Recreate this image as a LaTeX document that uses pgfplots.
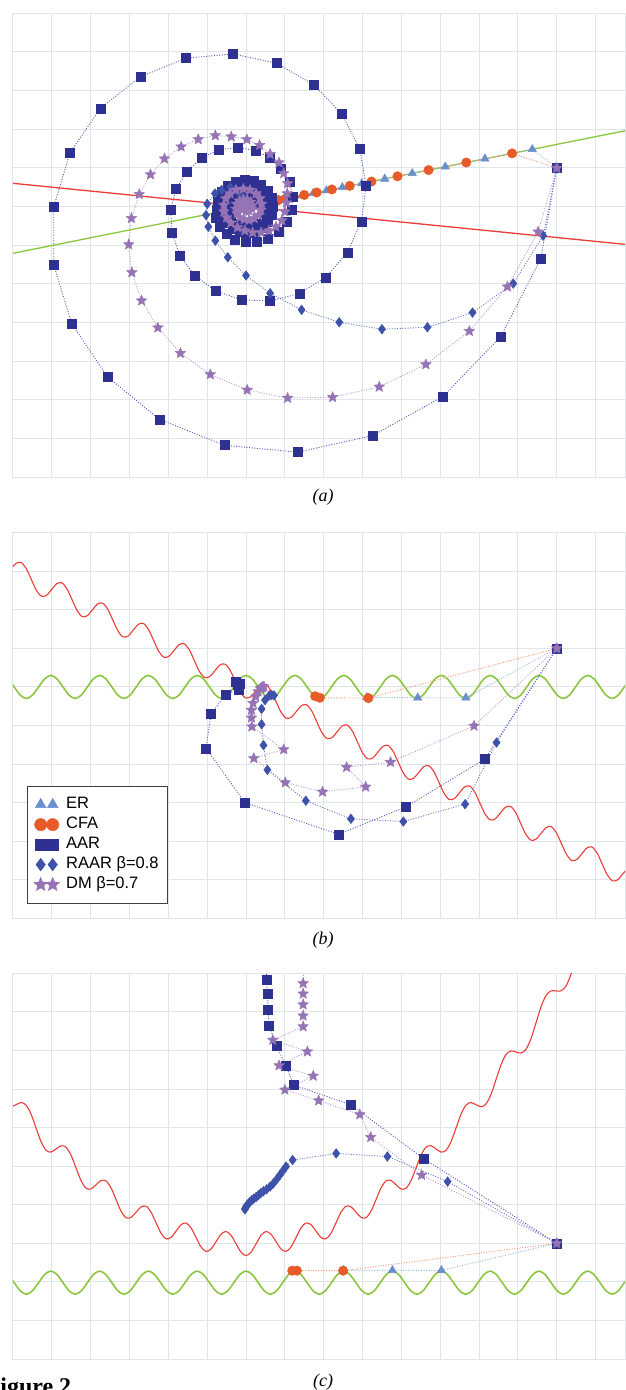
\documentclass[border=0pt]{standalone}
\usepackage{pgfplots}
\pgfplotsset{compat=1.18}
\usetikzlibrary{plotmarks}
\usepackage{fontspec}
\setmainfont{Liberation Serif}
\newfontfamily\legendfont{Liberation Sans}

\definecolor{gridc}{RGB}{224,229,232}
\definecolor{erc}{RGB}{106,143,204}
\definecolor{erl}{RGB}{150,180,226}
\definecolor{cfac}{RGB}{232,90,40}
\definecolor{cfal}{RGB}{244,150,115}
\definecolor{aarc}{RGB}{46,49,146}
\definecolor{aarl}{RGB}{85,90,190}
\definecolor{raarc}{RGB}{62,82,170}
\definecolor{raarl}{RGB}{100,120,205}
\definecolor{dmc}{RGB}{150,115,180}
\definecolor{dml}{RGB}{185,155,212}
\definecolor{redc}{RGB}{235,60,55}
\definecolor{greenc}{RGB}{140,198,63}

% filled five-pointed star
\pgfdeclareplotmark{fstar}{%
  \pgfpathmoveto{\pgfpointpolar{90}{\pgfplotmarksize}}%
  \pgfpathlineto{\pgfpointpolar{126}{0.45\pgfplotmarksize}}%
  \pgfpathlineto{\pgfpointpolar{162}{\pgfplotmarksize}}%
  \pgfpathlineto{\pgfpointpolar{198}{0.45\pgfplotmarksize}}%
  \pgfpathlineto{\pgfpointpolar{234}{\pgfplotmarksize}}%
  \pgfpathlineto{\pgfpointpolar{270}{0.45\pgfplotmarksize}}%
  \pgfpathlineto{\pgfpointpolar{306}{\pgfplotmarksize}}%
  \pgfpathlineto{\pgfpointpolar{342}{0.45\pgfplotmarksize}}%
  \pgfpathlineto{\pgfpointpolar{18}{\pgfplotmarksize}}%
  \pgfpathlineto{\pgfpointpolar{54}{0.45\pgfplotmarksize}}%
  \pgfpathclose
  \pgfusepathqfillstroke
}

\tikzset{
  er/.style={erl, line width=0.9pt, dash pattern=on 1pt off 1.6pt, mark=triangle*, mark size=4.8pt, mark options={solid, fill=erc, draw=erc, line width=0.5pt}},
  cfa/.style={cfal, line width=0.9pt, dash pattern=on 1pt off 1.6pt, mark=*, mark size=4.7pt, mark options={solid, fill=cfac, draw=cfac, line width=0.5pt}},
  aar/.style={aarl, line width=0.9pt, dash pattern=on 1pt off 1.6pt, mark=square*, mark size=4.5pt, mark options={solid, fill=aarc, draw=aarc, line width=0.5pt}},
  raar/.style={raarl, line width=0.9pt, dash pattern=on 1pt off 1.6pt, mark=diamond*, mark size=4.8pt, mark options={solid, fill=raarc, draw=raarc, line width=0.5pt}},
  dm/.style={dml, line width=0.9pt, dash pattern=on 1pt off 1.6pt, mark=fstar, mark size=5.6pt, mark options={solid, fill=dmc, draw=dmc, line width=0.4pt}},
}

\pgfplotsset{
  panel/.style={
    scale only axis, width=612pt,
    xmin=0, xmax=15.757, ymin=0,
    xtick={0,...,15},
    xticklabels={}, yticklabels={},
    major tick length=0pt, tick style={draw=none},
    grid=major,
    grid style={draw=gridc, line width=1pt},
    axis line style={draw=gridc, line width=1pt},
  },
}

\begin{document}
\begin{tikzpicture}

% ---------------- (a) ----------------
\begin{axis}[panel, at={(13pt,-477.3pt)}, anchor=south west, height=464pt, ymax=12, ytick={0,...,12}]
\addplot[greenc, line width=1.3pt] coordinates {(0,5.793) (15.757,8.963)};
\addplot[redc, line width=1.3pt] coordinates {(0,7.603) (15.757,6.025)};
% ER
\addplot[er] coordinates {
(14,8) (13.37,8.483) (12.15,8.238) (11.13,8.032) (10.28,7.861) (9.57,7.718) (8.98,7.600)
(8.48,7.499) (8.07,7.417) (7.73,7.348) (7.44,7.290) (7.20,7.242) (7.00,7.201) (6.84,7.169)
(6.70,7.141) (6.58,7.117) (6.49,7.099) (6.40,7.081) (6.34,7.069) (6.28,7.057) (6.23,7.047) (6.19,7.038)
};
% CFA
\addplot[cfa] coordinates {
(14,8) (12.85,8.378) (11.67,8.141) (10.70,7.946) (9.90,7.785) (9.23,7.650) (8.67,7.537)
(8.21,7.445) (7.82,7.366) (7.50,7.302) (7.23,7.248) (7.01,7.203) (6.83,7.167) (6.68,7.137)
(6.56,7.113) (6.47,7.095) (6.40,7.081) (6.35,7.071) (6.31,7.063) (6.29,7.059)
};
% AAR
\addplot[aar] coordinates {
(14,8) (13.59,5.66) (12.56,3.64) (11.07,2.09) (9.26,1.08) (7.33,0.65) (5.44,0.83) (3.77,1.50)
(2.43,2.60) (1.51,3.98) (1.05,5.49) (1.05,7.00) (1.47,8.40) (2.25,9.54) (3.28,10.36) (4.45,10.84)
(5.67,10.95) (6.78,10.71) (7.75,10.15) (8.47,9.39) (8.93,8.49) (9.09,7.53) (8.97,6.62) (8.61,5.81)
(8.05,5.17) (7.37,4.75) (6.62,4.56) (5.88,4.59) (5.22,4.82) (4.67,5.22) (4.30,5.74) (4.09,6.33)
(4.06,6.93) (4.20,7.46) (4.48,7.91) (4.87,8.27) (5.31,8.47) (5.79,8.53) (6.24,8.45) (6.62,8.26)
(6.90,7.97) (7.12,7.64) (7.20,7.26) (7.17,6.91) (7.05,6.61) (6.83,6.35) (6.57,6.18) (6.27,6.08)
(6.00,6.08) (5.72,6.15) (5.50,6.31) (5.33,6.48) (5.23,6.70)
(5.241,6.930) (5.273,7.165) (5.374,7.376) (5.535,7.544) (5.738,7.653) (5.962,7.694) (6.186,7.664)
(6.387,7.566) (6.547,7.413) (6.651,7.220) (6.689,7.006) (6.660,6.793) (6.567,6.602) (6.421,6.450)
(6.237,6.352) (6.034,6.316) (5.832,6.344) (5.651,6.432) (5.507,6.571) (5.415,6.745) (5.381,6.938)
(5.408,7.129) (5.492,7.300) (5.623,7.435) (5.788,7.523) (5.969,7.554) (6.150,7.528) (6.311,7.449)
(6.438,7.325) (6.520,7.170) (6.549,6.999) (6.524,6.829) (6.450,6.678) (6.333,6.559) (6.187,6.483)
(6.027,6.456) (5.869,6.479) (5.727,6.550) (5.616,6.659) (5.545,6.795) (5.531,6.945) (5.565,7.086)
(5.639,7.204) (5.742,7.289) (5.860,7.334) (5.981,7.339) (6.091,7.308) (6.180,7.247) (6.241,7.165) (6.271,7.074)
};
% RAAR
\addplot[raar] coordinates {
(14,8) (13.65,6.25) (12.88,5.01) (11.83,4.26) (10.67,3.88) (9.50,3.83) (8.40,4.01) (7.43,4.33)
(6.62,4.76) (6.00,5.22) (5.53,5.69) (5.21,6.12) (5.03,6.48) (4.97,6.78) (5.00,7.07) (5.20,7.34)
(5.37,7.43) (5.59,7.50) (5.78,7.40) (5.90,7.25) (5.97,7.13) (6.00,7.06) (6.01,7.02) (6.00,7.00)
};
% DM
\addplot[dm] coordinates {
(14,8) (13.52,6.35) (12.73,4.93) (11.75,3.78) (10.63,2.92) (9.43,2.34) (8.23,2.07) (7.07,2.05)
(6.03,2.26) (5.08,2.66) (4.31,3.21) (3.73,3.87) (3.31,4.57) (3.06,5.30) (2.98,6.02) (3.05,6.70)
(3.25,7.32) (3.54,7.83) (3.90,8.24) (4.33,8.55) (4.77,8.74) (5.21,8.84) (5.62,8.81) (6.02,8.74)
(6.35,8.59) (6.62,8.36) (6.85,8.14) (6.97,7.86) (7.07,7.60) (7.06,7.34) (7.04,7.10) (7.00,6.87)
(6.92,6.64) (6.77,6.48) (6.59,6.38) (6.39,6.33) (6.17,6.33) (5.97,6.38) (5.78,6.46) (5.61,6.58)
(5.50,6.72) (5.43,6.87) (5.43,7.04) (5.48,7.21) (5.59,7.34) (5.74,7.43) (5.93,7.46) (6.10,7.43)
(6.26,7.34) (6.36,7.21) (6.40,7.07) (6.38,6.91) (6.32,6.78) (6.21,6.70) (6.08,6.65) (5.95,6.67)
(5.84,6.72) (5.77,6.83) (5.74,6.94) (5.76,7.07) (5.83,7.15) (5.93,7.19) (6.03,7.18) (6.12,7.12)
(6.16,7.03) (6.15,6.95) (6.08,6.89) (6.00,6.88) (5.92,6.92) (5.89,6.99) (5.92,7.05) (5.98,7.08)
(6.04,7.05) (6.06,6.99) (6.01,6.96) (5.97,6.99) (6.00,7.02)
};
\end{axis}

% ---------------- (b) ----------------
\begin{axis}[panel, at={(13pt,-918.3pt)}, anchor=south west, height=385.6pt, ymax=10, ytick={0,...,10},
  legend image code/.code={\path[#1, every mark/.append style={scale=1.3}] plot[only marks] coordinates {(0pt,0pt) (12pt,0pt)};},
  legend style={at={(0.0234,0.344)}, anchor=north west, draw=black!75, line width=0.9pt, fill=white,
    inner xsep=6pt, inner ysep=8.5pt, row sep=0pt, column sep=4pt,
    nodes={inner sep=2.5pt, text height=11.5pt, text depth=3.5pt, font=\fontsize{16.5}{18}\legendfont}},
  legend cell align=left]
\addlegendimage{er}\addlegendentry{ER}
\addlegendimage{cfa}\addlegendentry{CFA}
\addlegendimage{aar}\addlegendentry{AAR}
\addlegendimage{raar}\addlegendentry{RAAR β=0.8}
\addlegendimage{dm}\addlegendentry{DM β=0.7}
\addplot[greenc, line width=1.6pt, smooth] coordinates {
(-0.127,6.212) (0.030,6.0) (0.187,5.788) (0.344,5.7) (0.501,5.788) (0.659,6.0) (0.816,6.212) (0.973,6.3)
(1.130,6.212) (1.287,6.0) (1.444,5.788) (1.601,5.7) (1.758,5.788) (1.915,6.0) (2.073,6.212) (2.230,6.3)
(2.387,6.212) (2.544,6.0) (2.701,5.788) (2.858,5.7) (3.015,5.788) (3.172,6.0) (3.329,6.212) (3.486,6.3)
(3.644,6.212) (3.801,6.0) (3.958,5.788) (4.115,5.7) (4.272,5.788) (4.429,6.0) (4.586,6.212) (4.743,6.3)
(4.900,6.212) (5.057,6.0) (5.215,5.788) (5.372,5.7) (5.529,5.788) (5.686,6.0) (5.843,6.212) (6.000,6.3)
(6.157,6.212) (6.314,6.0) (6.471,5.788) (6.628,5.7) (6.786,5.788) (6.943,6.0) (7.100,6.212) (7.257,6.3)
(7.414,6.212) (7.571,6.0) (7.728,5.788) (7.885,5.7) (8.042,5.788) (8.199,6.0) (8.357,6.212) (8.514,6.3)
(8.671,6.212) (8.828,6.0) (8.985,5.788) (9.142,5.7) (9.299,5.788) (9.456,6.0) (9.613,6.212) (9.770,6.3)
(9.928,6.212) (10.085,6.0) (10.242,5.788) (10.399,5.7) (10.556,5.788) (10.713,6.0) (10.870,6.212) (11.027,6.3)
(11.184,6.212) (11.341,6.0) (11.499,5.788) (11.656,5.7) (11.813,5.788) (11.970,6.0) (12.127,6.212) (12.284,6.3)
(12.441,6.212) (12.598,6.0) (12.755,5.788) (12.912,5.7) (13.070,5.788) (13.227,6.0) (13.384,6.212) (13.541,6.3)
(13.698,6.212) (13.855,6.0) (14.012,5.788) (14.169,5.7) (14.326,5.788) (14.483,6.0) (14.641,6.212) (14.798,6.3)
(14.955,6.212) (15.112,6.0) (15.269,5.788) (15.426,5.7) (15.583,5.788) (15.740,6.0) (15.897,6.212)
};
\addplot[redc, line width=1.1pt, smooth] coordinates {
(-0.055,9.054) (0.076,9.204) (0.208,9.228) (0.339,9.072) (0.470,8.790) (0.601,8.508) (0.733,8.353) (0.864,8.376)
(0.995,8.527) (1.126,8.677) (1.258,8.701) (1.389,8.545) (1.520,8.263) (1.651,7.981) (1.783,7.825) (1.914,7.849)
(2.045,7.999) (2.176,8.150) (2.308,8.174) (2.439,8.018) (2.570,7.736) (2.701,7.454) (2.833,7.298) (2.964,7.322)
(3.095,7.472) (3.226,7.623) (3.358,7.647) (3.489,7.491) (3.620,7.209) (3.751,6.927) (3.883,6.771) (4.014,6.795)
(4.145,6.945) (4.276,7.096) (4.408,7.119) (4.539,6.964) (4.670,6.682) (4.801,6.400) (4.933,6.244) (5.064,6.268)
(5.195,6.418) (5.326,6.569) (5.458,6.592) (5.589,6.437) (5.720,6.155) (5.851,5.872) (5.983,5.717) (6.114,5.741)
(6.245,5.891) (6.376,6.041) (6.508,6.065) (6.639,5.910) (6.770,5.627) (6.901,5.345) (7.033,5.190) (7.164,5.214)
(7.295,5.364) (7.426,5.514) (7.558,5.538) (7.689,5.383) (7.820,5.100) (7.951,4.818) (8.083,4.663) (8.214,4.686)
(8.345,4.837) (8.476,4.987) (8.608,5.011) (8.739,4.855) (8.870,4.573) (9.001,4.291) (9.133,4.136) (9.264,4.159)
(9.395,4.310) (9.526,4.460) (9.658,4.484) (9.789,4.328) (9.920,4.046) (10.051,3.764) (10.183,3.608) (10.314,3.632)
(10.445,3.783) (10.576,3.933) (10.708,3.957) (10.839,3.801) (10.970,3.519) (11.101,3.237) (11.233,3.081) (11.364,3.105)
(11.495,3.256) (11.626,3.406) (11.758,3.430) (11.889,3.274) (12.020,2.992) (12.151,2.710) (12.283,2.554) (12.414,2.578)
(12.545,2.728) (12.676,2.879) (12.808,2.903) (12.939,2.747) (13.070,2.465) (13.201,2.183) (13.333,2.027) (13.464,2.051)
(13.595,2.201) (13.726,2.352) (13.858,2.376) (13.989,2.220) (14.120,1.938) (14.251,1.656) (14.383,1.500) (14.514,1.524)
(14.645,1.674) (14.776,1.825) (14.908,1.848) (15.039,1.693) (15.170,1.411) (15.301,1.129) (15.433,0.973) (15.564,0.997)
(15.695,1.147) (15.826,1.297)
};
\addplot[er] coordinates {(14,7) (11.66,5.72) (10.42,5.72) (9.11,5.73)};
\addplot[cfa] coordinates {(14,7) (9.15,5.71) (7.90,5.72) (7.78,5.76)};
\addplot[aar] coordinates {
(14,7) (12.15,4.13) (10.12,2.89) (8.38,2.18) (5.97,3.00) (4.97,4.41) (5.10,5.30) (5.48,5.81)
(5.80,5.93) (5.74,6.14) (5.83,6.09) (5.78,6.06)
};
\addplot[raar] coordinates {
(14,7) (12.45,4.56) (11.64,2.96) (10.05,2.51) (8.70,2.58) (7.54,3.05) (6.55,3.85) (6.45,4.49)
(6.40,5.03) (6.40,5.43) (6.49,5.66) (6.60,5.78) (6.72,5.78) (6.66,5.79)
};
\addplot[dm] coordinates {
(14,7) (11.87,4.99) (9.72,4.05) (8.59,3.92) (9.08,3.41) (7.97,3.28) (7.01,3.52) (6.20,4.15)
(6.97,4.38) (6.15,4.97) (6.14,5.20) (6.14,5.40) (6.18,5.58) (6.25,5.75) (6.31,5.88) (6.37,5.96)
(6.42,6.00) (6.46,6.01) (6.40,5.98)
};
\end{axis}

% ---------------- (c) ----------------
\begin{axis}[panel, at={(13pt,-1359pt)}, anchor=south west, height=385.7pt, ymax=10, ytick={0,...,10}]
\addplot[greenc, line width=1.6pt, smooth] coordinates {
(-0.127,2.192) (0.030,1.98) (0.187,1.768) (0.344,1.68) (0.501,1.768) (0.659,1.98) (0.816,2.192) (0.973,2.28)
(1.130,2.192) (1.287,1.98) (1.444,1.768) (1.601,1.68) (1.758,1.768) (1.915,1.98) (2.073,2.192) (2.230,2.28)
(2.387,2.192) (2.544,1.98) (2.701,1.768) (2.858,1.68) (3.015,1.768) (3.172,1.98) (3.329,2.192) (3.486,2.28)
(3.644,2.192) (3.801,1.98) (3.958,1.768) (4.115,1.68) (4.272,1.768) (4.429,1.98) (4.586,2.192) (4.743,2.28)
(4.900,2.192) (5.057,1.98) (5.215,1.768) (5.372,1.68) (5.529,1.768) (5.686,1.98) (5.843,2.192) (6.000,2.28)
(6.157,2.192) (6.314,1.98) (6.471,1.768) (6.628,1.68) (6.786,1.768) (6.943,1.98) (7.100,2.192) (7.257,2.28)
(7.414,2.192) (7.571,1.98) (7.728,1.768) (7.885,1.68) (8.042,1.768) (8.199,1.98) (8.357,2.192) (8.514,2.28)
(8.671,2.192) (8.828,1.98) (8.985,1.768) (9.142,1.68) (9.299,1.768) (9.456,1.98) (9.613,2.192) (9.770,2.28)
(9.928,2.192) (10.085,1.98) (10.242,1.768) (10.399,1.68) (10.556,1.768) (10.713,1.98) (10.870,2.192) (11.027,2.28)
(11.184,2.192) (11.341,1.98) (11.499,1.768) (11.656,1.68) (11.813,1.768) (11.970,1.98) (12.127,2.192) (12.284,2.28)
(12.441,2.192) (12.598,1.98) (12.755,1.768) (12.912,1.68) (13.070,1.768) (13.227,1.98) (13.384,2.192) (13.541,2.28)
(13.698,2.192) (13.855,1.98) (14.012,1.768) (14.169,1.68) (14.326,1.768) (14.483,1.98) (14.641,2.192) (14.798,2.28)
(14.955,2.192) (15.112,1.98) (15.269,1.768) (15.426,1.68) (15.583,1.768) (15.740,1.98) (15.897,2.192)
};
\addplot[redc, line width=1.1pt, smooth] coordinates {
(-0.051,6.540) (0.078,6.593) (0.206,6.650) (0.335,6.586) (0.464,6.349) (0.593,5.992) (0.721,5.638) (0.850,5.412)
(0.979,5.365) (1.108,5.446) (1.236,5.529) (1.365,5.493) (1.494,5.284) (1.623,4.954) (1.751,4.627) (1.880,4.428)
(2.009,4.409) (2.138,4.517) (2.266,4.628) (2.395,4.619) (2.524,4.437) (2.653,4.134) (2.781,3.835) (2.910,3.664)
(3.039,3.671) (3.168,3.806) (3.296,3.945) (3.425,3.963) (3.554,3.808) (3.683,3.533) (3.811,3.261) (3.940,3.117)
(4.069,3.152) (4.198,3.315) (4.326,3.481) (4.455,3.526) (4.584,3.399) (4.713,3.151) (4.841,2.906) (4.970,2.789)
(5.099,2.852) (5.228,3.042) (5.356,3.235) (5.485,3.307) (5.614,3.207) (5.743,2.987) (5.871,2.770) (6.000,2.680)
(6.129,2.770) (6.258,2.987) (6.386,3.207) (6.515,3.307) (6.644,3.235) (6.773,3.042) (6.901,2.852) (7.030,2.789)
(7.159,2.906) (7.288,3.151) (7.416,3.399) (7.545,3.526) (7.674,3.481) (7.803,3.315) (7.931,3.152) (8.060,3.117)
(8.189,3.261) (8.318,3.533) (8.446,3.808) (8.575,3.963) (8.704,3.945) (8.833,3.806) (8.961,3.671) (9.090,3.664)
(9.219,3.835) (9.348,4.134) (9.476,4.437) (9.605,4.619) (9.734,4.628) (9.863,4.517) (9.991,4.409) (10.120,4.428)
(10.249,4.627) (10.378,4.954) (10.506,5.284) (10.635,5.493) (10.764,5.529) (10.893,5.446) (11.021,5.365) (11.150,5.412)
(11.279,5.638) (11.408,5.992) (11.536,6.349) (11.665,6.586) (11.794,6.650) (11.923,6.593) (12.051,6.540) (12.180,6.614)
(12.309,6.868) (12.438,7.249) (12.566,7.633) (12.695,7.897) (12.824,7.988) (12.953,7.959) (13.081,7.933) (13.210,8.034)
(13.339,8.315) (13.468,8.724) (13.596,9.136) (13.725,9.427) (13.854,9.545) (13.983,9.543) (14.111,9.545) (14.240,9.674)
(14.369,9.982) (14.498,10.417) (14.626,10.857)
};
\addplot[er] coordinates {(14,3) (11.03,2.30) (9.77,2.30) (8.51,2.30)};
\addplot[cfa] coordinates {(14,3) (8.50,2.29) (7.31,2.29) (7.19,2.29)};
\addplot[aar] coordinates {
(14,3) (10.58,5.19) (8.70,6.59) (7.24,7.10) (7.02,7.60) (6.79,8.12) (6.59,8.64) (6.57,9.05)
(6.55,9.46) (6.53,9.84) (6.52,10.25)
};
\addplot[raar] coordinates {
(14,3) (11.19,4.60) (9.64,5.25) (8.32,5.33) (7.20,5.16) (7.03,4.99) (6.95,4.88) (6.87,4.77)
(6.79,4.66) (6.70,4.55) (6.62,4.47) (6.53,4.40) (6.45,4.35) (6.38,4.30) (6.32,4.25) (6.26,4.20)
(6.20,4.16) (6.15,4.12) (6.10,4.07) (6.06,4.03) (6.03,3.99) (6.00,3.95) (5.98,3.91) (5.97,3.88)
};
\addplot[dm] coordinates {
(14,3) (10.52,4.77) (9.21,5.75) (8.93,6.34) (7.87,6.70) (7.00,6.98) (7.73,7.34) (6.85,7.61)
(7.58,7.97) (6.69,8.27) (7.47,8.62) (7.47,8.90) (7.47,9.19) (7.47,9.47) (7.47,9.74) (7.48,10.02) (7.48,10.30)
};
\end{axis}

\node[anchor=base, inner sep=0pt, font=\fontsize{18}{20}\selectfont\itshape] at (323pt,-501pt) {(a)};
\node[anchor=base, inner sep=0pt, font=\fontsize{18}{20}\selectfont\itshape] at (323pt,-944.3pt) {(b)};
\node[anchor=base, inner sep=0pt, font=\fontsize{18}{20}\selectfont\itshape] at (323pt,-1386pt) {(c)};
\node[anchor=base west, inner sep=0pt, font=\fontsize{24}{26}\selectfont\bfseries] at (-14.5pt,-1394.5pt) {Figure 2};

\pgfresetboundingbox
\useasboundingbox (0pt,0pt) rectangle (625pt,-1390pt);
\end{tikzpicture}
\end{document}
